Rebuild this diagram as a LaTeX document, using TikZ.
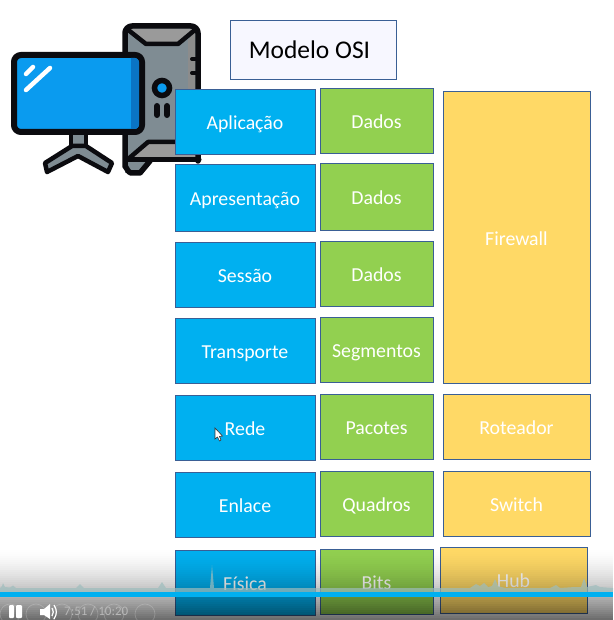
\documentclass[tikz,border=0pt]{standalone}
\usepackage{fontspec}
\setmainfont{Carlito}
\usetikzlibrary{positioning}
\definecolor{bluebox}{HTML}{00B0F0}
\definecolor{greenbox}{HTML}{92D050}
\definecolor{yellowbox}{HTML}{FFD966}
\definecolor{edgeblue}{HTML}{3A5F95}
\definecolor{inkdark}{HTML}{0B0B0F}
\definecolor{caseg}{HTML}{7F8C93}
\definecolor{casedark}{HTML}{9A9A9A}
\definecolor{screenb}{HTML}{0A9BEF}
\definecolor{screend}{HTML}{0A74C4}
\definecolor{wave}{HTML}{9DBDBD}
\tikzset{
 x=1pt,y=-1pt,
 layerbox/.style={draw=edgeblue,line width=1pt,fill=bluebox,text=white,font=\fontsize{19.8}{22}\selectfont,inner sep=0pt,outer sep=0pt,anchor=north west,text height=15pt,text depth=0pt},
 databox/.style={layerbox,fill=greenbox},
 devbox/.style={layerbox,fill=yellowbox},
 ink/.style={draw=inkdark,line width=5.5pt,line join=round,line cap=round}
}
\newcommand{\boxat}[7]{\node[#1,minimum width=#5-#3 pt,minimum height=#6-#4 pt] (#2) at (#3,#4) {#7};}
\begin{document}
\begin{tikzpicture}
\useasboundingbox (0,0) rectangle (613,620);
\fill[white] (0,0) rectangle (613,620);
% tower
\fill[caseg] (125,27) -- (198,27) -- (198,160) -- (150,160) -- (140,173) -- (125,173) -- cycle;
\fill[casedark] (130,29) -- (194,29) -- (177,43) -- (147,43) -- cycle;
\fill[casedark] (131,157) -- (148,143) -- (198,143) -- (198,160) -- (131,160) -- cycle;
\fill[black!45] (188,40) -- (195,32) -- (195,140) -- (188,140) -- cycle;
\draw[ink] (150,161) -- (140,173) -- (131,173) to[out=180,in=90] (125,167) -- (125,33) to[out=90,in=180] (132,26) -- (191,26) to[out=0,in=90] (198,33) -- (198,161);
\draw[ink,line width=4.5pt] (127,29) -- (146,44) -- (178,44) -- (196,29);
\draw[ink,line width=4.5pt] (127,160) -- (148,142) -- (198,142);
\draw[ink,line width=5pt] (127,160) -- (199,160);
\draw[ink,line width=4pt] (192,59) -- (198,59) (192,73) -- (198,73);
\node[circle,draw=inkdark,line width=5.5pt,fill=screenb,minimum size=15pt,inner sep=0pt] (led) at (162,88) {};
\draw[ink,line width=6pt] (157,106) -- (157,115) (167,106) -- (167,115);
% monitor stand
\fill[caseg] (72,130) rectangle (85,150);
\draw[ink,line width=4.5pt] (71,132) -- (71,148) (86,132) -- (86,148);
\fill[caseg,draw=inkdark,line width=4.5pt,line join=round] (72,146) -- (45,163) -- (47,172) -- (78,156) -- (108,172) -- (112,163) -- (86,146) -- cycle;
% monitor
\fill[screenb,draw=inkdark,line width=6pt,rounded corners=7pt] (14,55) rectangle (142,132);
\fill[screend] (131,58) -- (135,58) to[out=0,in=90] (139,62) -- (139,125) to[out=-90,in=0] (135,129) -- (131,129) -- cycle;
\draw[white,line width=4.5pt,line cap=round] (26,74) -- (33,67) (26,90) -- (50,68);
% title
\node[draw=edgeblue,line width=1pt,fill=white!97!blue,text=black,font=\fontsize{25.5}{28}\selectfont,inner sep=0pt,outer sep=0pt,anchor=north west,minimum width=166pt,minimum height=59pt,text height=17pt,text depth=0pt] (title) at (230,21) {\hspace{-7pt}Modelo OSI};
% blue
\boxat{layerbox}{a1}{175}{90}{315}{155}{Aplicação}
\boxat{layerbox}{a2}{175}{165}{315}{231}{Apresentação}
\boxat{layerbox}{a3}{175}{242}{315}{307}{Sessão}
\boxat{layerbox}{a4}{175}{318}{315}{383}{Transporte}
\boxat{layerbox}{a5}{175}{395}{315}{460}{Rede}
\boxat{layerbox}{a6}{175}{472}{315}{537}{Enlace}
\boxat{layerbox}{a7}{175}{550}{315}{615}{Física}
% green
\boxat{databox}{b1}{320}{89}{433}{154}{Dados}
\boxat{databox}{b2}{320}{164}{433}{230}{Dados}
\boxat{databox}{b3}{320}{241}{433}{306}{Dados}
\boxat{databox}{b4}{320}{317}{433}{382}{Segmentos}
\boxat{databox}{b5}{320}{394}{433}{459}{Pacotes}
\boxat{databox}{b6}{320}{471}{433}{536}{Quadros}
\boxat{databox}{b7}{320}{549}{433}{614}{Bits}
% yellow
\boxat{devbox}{c1}{443}{92}{590}{383}{Firewall}
\boxat{devbox}{c2}{443}{394}{590}{459}{Roteador}
\boxat{devbox}{c3}{443}{471}{590}{536}{Switch}
\boxat{devbox}{c4}{440}{547}{587}{613}{Hub}
% cursor
\fill[white,draw=black!80,line width=0.6pt] (215,428) -- (215,439) -- (217.5,437) -- (219.5,441) -- (221,440) -- (219.5,436.5) -- (222.5,436) -- cycle;
% player gradient
\foreach \i in {0,...,37}{
  \pgfmathsetmacro{\yy}{546+2*\i}
  \pgfmathsetmacro{\op}{0.6*(\i/37)^1.7}
  \fill[black,opacity=\op] (0,\yy) rectangle (613,\yy+2);
}
% waveform
\fill[wave,opacity=0.7] (0,592) -- (0,588) -- (2,586) -- (3,583) -- (5,587) -- (10,587.5) -- (13,585.5) -- (16,588) -- (76,588) -- (80,584) -- (84,588) -- (158,588) -- (162,582) -- (166,588) -- (205,588) -- (210,588) -- (212,565) -- (214,588) -- (470,588) -- (476,584) -- (480,586) -- (484,583) -- (488,587) -- (492,586) -- (495,579) -- (498,586) -- (505,588) -- (550,588) -- (556,585) -- (560,588) -- (575,587) -- (581,587) -- (584,578) -- (587,587) -- (596,585) -- (600,587) -- (613,588) -- (613,592) -- cycle;
% progress bar
\fill[bluebox] (0,592) rectangle (613,596.5);
% controls
\foreach \cx in {10,36,62,88,114,145}{\draw[white,opacity=0.2,line width=0.7pt] (\cx,614) circle[radius=10];}
\fill[white,rounded corners=1pt] (9,605) rectangle (14,618);
\fill[white,rounded corners=1pt] (16,605) rectangle (22,618);
\fill[white] (40,609) -- (44,609) -- (50,604) -- (50,619) -- (44,615) -- (40,615) -- cycle;
\draw[white,line width=1.2pt] (52,608) to[bend left=35] (52,616);
\draw[white,line width=1.2pt] (54,605) to[bend left=35] (54,619);
\node[text=white!72!black,font=\fontsize{13}{15}\selectfont,anchor=west,inner sep=0pt] (clock) at (64,611) {7:51 / 10:20};
\end{tikzpicture}
\end{document}
